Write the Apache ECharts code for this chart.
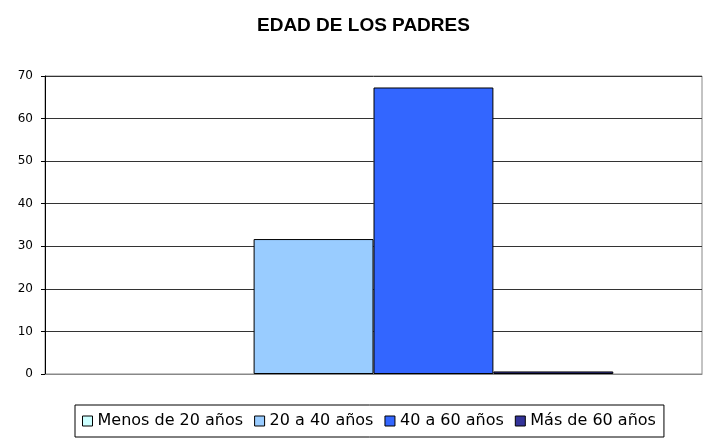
<!DOCTYPE html>
<html>
<head>
<meta charset="utf-8">
<script src="https://cdn.jsdelivr.net/npm/echarts@6/dist/echarts.min.js"></script>
<style>
  html, body { margin: 0; padding: 0; background: #fff; }
  #main { width: 710px; height: 440px; }
</style>
</head>
<body>
<div id="main"></div>
<script>
var categories = [''];
var seriesNames = ['Menos de 20 años', '20 a 40 años', '40 a 60 años', 'Más de 60 años'];
var seriesValues = [0, 31.7, 67.3, 0.6];
var seriesColors = ['#CCFFFF', '#99CCFF', '#3366FF', '#333399'];

var myChart = echarts.init(document.getElementById('main'));

var series = [];
for (var i = 0; i < seriesNames.length; i++) {
  series.push({
    name: seriesNames[i],
    type: 'bar',
    data: [seriesValues[i]],
    barGap: '0%',
    barCategoryGap: '27%',
    itemStyle: {
      color: seriesColors[i],
      borderColor: '#000',
      // a zero bar leaves no outline on the axis
      borderWidth: seriesValues[i] > 0 ? 1 : 0
    }
  });
}

var option = {
  animation: false,
  backgroundColor: '#fff',
  title: {
    text: 'EDAD DE LOS PADRES',
    left: 252,
    top: 11,
    textStyle: {
      fontFamily: 'Liberation Sans',
      fontWeight: 'bold',
      fontSize: 19,
      color: '#000'
    }
  },
  grid: {
    left: 45,
    right: 8,
    top: 76,
    bottom: 66,
    show: true,
    borderColor: '#888',
    borderWidth: 1
  },
  legend: {
    data: seriesNames.map(function (n) {
      return { name: n, itemStyle: { borderColor: '#000', borderWidth: 1 } };
    }),
    left: 75,
    top: 405,
    padding: [8, 8, 8, 7],
    itemGap: 11,
    itemWidth: 10,
    itemHeight: 10,
    borderColor: '#000',
    borderWidth: 1,
    icon: 'rect',
    textStyle: {
      fontFamily: 'DejaVu Sans',
      fontSize: 16,
      color: '#000'
    }
  },
  xAxis: {
    type: 'category',
    data: categories,
    axisLine: { lineStyle: { color: '#888', width: 1 } },
    axisTick: { show: false },
    axisLabel: { show: false }
  },
  yAxis: {
    type: 'value',
    min: 0,
    max: 70,
    interval: 10,
    axisLine: { show: true, lineStyle: { color: '#000', width: 1 } },
    axisTick: { show: true, length: 4, lineStyle: { color: '#000' } },
    axisLabel: {
      fontFamily: 'DejaVu Sans',
      fontSize: 12,
      color: '#000',
      margin: 12
    },
    splitLine: { show: true, lineStyle: { color: '#333', width: 1 } }
  },
  series: series
};

myChart.setOption(option);
</script>
</body>
</html>
